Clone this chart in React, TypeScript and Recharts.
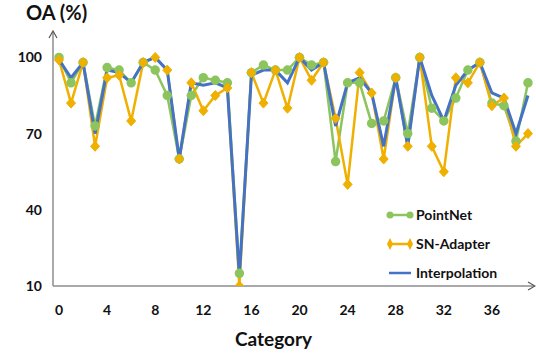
import { LineChart, Line, XAxis, YAxis } from "recharts";

const categories = Array.from({ length: 40 }, (_, i) => i);
const xTicks = [0, 4, 8, 12, 16, 20, 24, 28, 32, 36];
const yTicks = [10, 40, 70, 100];

const pointNet = [100, 90, 98, 73, 96, 95, 90, 98, 95, 85, 60, 85, 92, 91, 90, 15, 94, 97, 95, 95, 100, 97, 98, 59, 90, 90, 74, 75, 92, 70, 100, 80, 75, 84, 95, 98, 82, 81, 67, 90];
const snAdapter = [99, 82, 98, 65, 92, 93, 75, 98, 100, 95, 60, 90, 79, 85, 88, 10, 94, 82, 95, 80, 100, 91, 98, 76, 50, 94, 86, 60, 92, 65, 100, 65, 55, 92, 90, 98, 81, 84, 65, 70];
const interpolation = [99, 92, 98, 70, 95, 94, 90, 98, 100, 95, 60, 90, 89, 90, 88, 14, 93, 95, 95, 90, 100, 95, 98, 73, 90, 92, 86, 65, 92, 65, 100, 85, 75, 89, 95, 98, 86, 84, 70, 85];

const data = categories.map((c, i) => ({
  idx: c,
  pointNet: pointNet[i],
  snAdapter: snAdapter[i],
  interpolation: interpolation[i],
}));

const GREEN = "#8cc45e";
const ORANGE = "#efb000";
const BLUE = "#4472c4";
const AXIS = "#8c8c8c";
const FONT = "Lato, 'Open Sans', sans-serif";

const DiamondDot = (props: any) => {
  const { cx, cy } = props;
  if (cx == null || cy == null) return null;
  return (
    <path
      d={`M${cx},${cy - 5} L${cx + 4.5},${cy} L${cx},${cy + 5} L${cx - 4.5},${cy} Z`}
      fill={ORANGE}
      stroke={ORANGE}
    />
  );
};

const legendItems = [
  { name: "PointNet", color: GREEN, marker: "circle" },
  { name: "SN-Adapter", color: ORANGE, marker: "diamond" },
  { name: "Interpolation", color: BLUE, marker: "none" },
];

function ChartLegend() {
  return (
    <div
      style={{
        position: "absolute",
        left: 386,
        top: 200,
        fontFamily: FONT,
        fontWeight: 700,
        fontSize: 14,
        color: "#111",
      }}
    >
      {legendItems.map((it) => (
        <div key={it.name} style={{ display: "flex", alignItems: "center", height: 29 }}>
          <svg width={28} height={14}>
            <line x1={3} y1={7} x2={25} y2={7} stroke={it.color} strokeWidth={2.5} />
            {it.marker === "circle" && (
              <>
                <circle cx={4} cy={7} r={3.5} fill={it.color} />
                <circle cx={24} cy={7} r={3.5} fill={it.color} />
              </>
            )}
            {it.marker === "diamond" && (
              <>
                <path d="M4,1 L7,7 L4,13 L1,7 Z" fill={it.color} />
                <path d="M24,1 L27,7 L24,13 L21,7 Z" fill={it.color} />
              </>
            )}
          </svg>
          <span style={{ marginLeft: 2 }}>{it.name}</span>
        </div>
      ))}
    </div>
  );
}

export default function App() {
  return (
    <div style={{ position: "absolute", left: 0, top: 0, width: 536, height: 358, background: "#fff" }}>
      <div
        style={{
          position: "absolute",
          left: 26,
          top: 0,
          fontFamily: FONT,
          fontWeight: 700,
          fontSize: 20,
          color: "#111",
        }}
      >
        OA (%)
      </div>
      <LineChart width={536} height={358} data={data} margin={{ top: 32, right: 2, left: 0, bottom: 0 }}>
        <XAxis
          dataKey="idx"
          type="number"
          domain={[-0.5, 39.5]}
          ticks={xTicks}
          interval={0}
          tickLine={false}
          tickMargin={13}
          height={72}
          axisLine={{ stroke: AXIS, strokeWidth: 1.5 }}
          tick={{ fill: "#111", fontFamily: FONT, fontWeight: 700, fontSize: 14 }}
          label={{
            value: "Category",
            position: "insideBottom",
            offset: 12,
            dx: -20,
            fill: "#111",
            fontFamily: FONT,
            fontWeight: 700,
            fontSize: 19,
          }}
        />
        <YAxis
          domain={[10, 110]}
          ticks={yTicks}
          interval={0}
          width={53}
          tickLine={false}
          tickMargin={5}
          allowDataOverflow
          axisLine={{ stroke: AXIS, strokeWidth: 1.5 }}
          tick={{ fill: "#111", fontFamily: FONT, fontWeight: 700, fontSize: 14 }}
        />
        <Line
          dataKey="pointNet"
          name="PointNet"
          stroke={GREEN}
          strokeWidth={2.5}
          dot={{ r: 3.5, fill: GREEN, stroke: GREEN }}
          isAnimationActive={false}
        />
        <Line
          dataKey="snAdapter"
          name="SN-Adapter"
          stroke={ORANGE}
          strokeWidth={2.5}
          dot={<DiamondDot />}
          isAnimationActive={false}
        />
        <Line
          dataKey="interpolation"
          name="Interpolation"
          stroke={BLUE}
          strokeWidth={3}
          dot={false}
          isAnimationActive={false}
        />
      </LineChart>
      <ChartLegend />
      <svg
        width={536}
        height={358}
        style={{ position: "absolute", left: 0, top: 0, pointerEvents: "none" }}
      >
        <polyline points="49,38 53,31 57,38" fill="none" stroke="#555" strokeWidth={1.2} />
        <polyline points="528,282 535,286 528,290" fill="none" stroke="#555" strokeWidth={1.2} />
      </svg>
    </div>
  );
}
